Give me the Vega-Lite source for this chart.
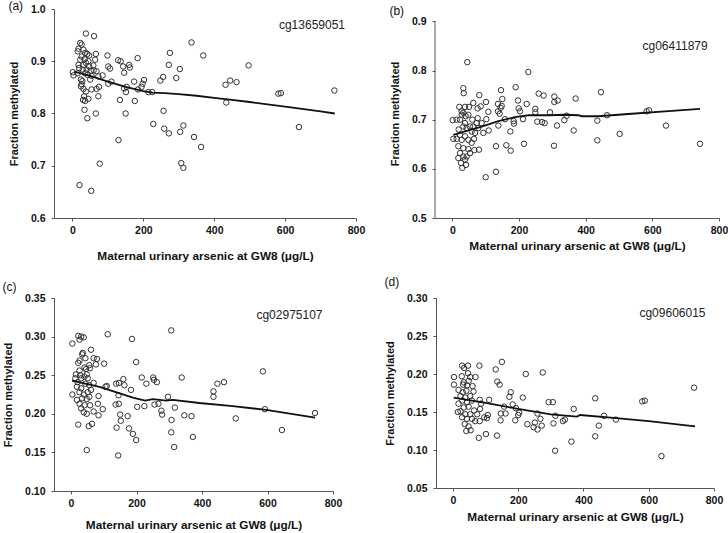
{
  "$schema": "https://vega.github.io/schema/vega-lite/v6.json",
  "padding": {"left": 2, "top": 0, "right": 0, "bottom": 0},
  "background": "white",
  "config": {
    "view": {"stroke": null},
    "font": "Liberation Sans",
    "axis": {"grid": false, "labelOverlap": false, "labelFlush": false, "tickCount": 12, "domainColor": "#555", "tickColor": "#555", "tickSize": 3, "labelFont": "Liberation Sans", "labelFontWeight": "bold", "labelFontSize": 10.5, "labelColor": "#111", "titleFont": "Liberation Sans", "titleFontWeight": "bold", "titleColor": "#111"},
    "axisX": {"labelPadding": 4, "titleFontSize": 11.8},
    "axisY": {"labelPadding": 6, "titleFontSize": 11, "titlePadding": 11},
    "title": {"font": "Liberation Sans", "fontSize": 12, "fontWeight": "normal", "anchor": "start", "frame": "bounds", "color": "#111"}
  },
  "datasets": {
    "ptsA": [
      {"arsenic":38,"fraction":0.953},{"arsenic":61,"fraction":0.948},{"arsenic":22,"fraction":0.935},{"arsenic":26,"fraction":0.932},{"arsenic":336,"fraction":0.936},{"arsenic":369,"fraction":0.911},{"arsenic":275,"fraction":0.916},{"arsenic":17,"fraction":0.924},{"arsenic":31,"fraction":0.922},{"arsenic":66,"fraction":0.914},{"arsenic":99,"fraction":0.911},{"arsenic":42,"fraction":0.914},{"arsenic":497,"fraction":0.892},{"arsenic":129,"fraction":0.902},{"arsenic":136,"fraction":0.900},{"arsenic":184,"fraction":0.906},{"arsenic":143,"fraction":0.890},{"arsenic":160,"fraction":0.893},{"arsenic":101,"fraction":0.890},{"arsenic":106,"fraction":0.886},{"arsenic":272,"fraction":0.893},{"arsenic":303,"fraction":0.885},{"arsenic":146,"fraction":0.878},{"arsenic":162,"fraction":0.888},{"arsenic":248,"fraction":0.863},{"arsenic":256,"fraction":0.870},{"arsenic":293,"fraction":0.868},{"arsenic":202,"fraction":0.864},{"arsenic":174,"fraction":0.861},{"arsenic":198,"fraction":0.857},{"arsenic":195,"fraction":0.851},{"arsenic":185,"fraction":0.846},{"arsenic":153,"fraction":0.851},{"arsenic":146,"fraction":0.848},{"arsenic":151,"fraction":0.841},{"arsenic":134,"fraction":0.826},{"arsenic":176,"fraction":0.824},{"arsenic":257,"fraction":0.805},{"arsenic":150,"fraction":0.800},{"arsenic":66,"fraction":0.800},{"arsenic":42,"fraction":0.791},{"arsenic":228,"fraction":0.780},{"arsenic":259,"fraction":0.771},{"arsenic":272,"fraction":0.762},{"arsenic":313,"fraction":0.777},{"arsenic":304,"fraction":0.765},{"arsenic":343,"fraction":0.755},{"arsenic":363,"fraction":0.736},{"arsenic":130,"fraction":0.749},{"arsenic":77,"fraction":0.704},{"arsenic":307,"fraction":0.705},{"arsenic":313,"fraction":0.696},{"arsenic":20,"fraction":0.663},{"arsenic":53,"fraction":0.652},{"arsenic":432,"fraction":0.855},{"arsenic":445,"fraction":0.863},{"arsenic":463,"fraction":0.860},{"arsenic":434,"fraction":0.821},{"arsenic":581,"fraction":0.838},{"arsenic":588,"fraction":0.839},{"arsenic":639,"fraction":0.774},{"arsenic":739,"fraction":0.844},{"arsenic":73,"fraction":0.871},{"arsenic":85,"fraction":0.873},{"arsenic":101,"fraction":0.857},{"arsenic":110,"fraction":0.861},{"arsenic":75,"fraction":0.851},{"arsenic":73,"fraction":0.833},{"arsenic":54,"fraction":0.846},{"arsenic":68,"fraction":0.847},{"arsenic":33,"fraction":0.833},{"arsenic":36,"fraction":0.824},{"arsenic":34,"fraction":0.807},{"arsenic":30,"fraction":0.826},{"arsenic":45,"fraction":0.828},{"arsenic":31,"fraction":0.847},{"arsenic":38,"fraction":0.842},{"arsenic":1,"fraction":0.879},{"arsenic":3,"fraction":0.873},{"arsenic":15,"fraction":0.877},{"arsenic":24,"fraction":0.865},{"arsenic":26,"fraction":0.856},{"arsenic":24,"fraction":0.852},{"arsenic":28,"fraction":0.862},{"arsenic":17,"fraction":0.893},{"arsenic":22,"fraction":0.903},{"arsenic":26,"fraction":0.909},{"arsenic":34,"fraction":0.904},{"arsenic":38,"fraction":0.897},{"arsenic":45,"fraction":0.900},{"arsenic":47,"fraction":0.890},{"arsenic":40,"fraction":0.884},{"arsenic":52,"fraction":0.882},{"arsenic":43,"fraction":0.874},{"arsenic":60,"fraction":0.883},{"arsenic":68,"fraction":0.881},{"arsenic":54,"fraction":0.872},{"arsenic":50,"fraction":0.865},{"arsenic":36,"fraction":0.877},{"arsenic":29,"fraction":0.884},{"arsenic":19,"fraction":0.887},{"arsenic":15,"fraction":0.919},{"arsenic":36,"fraction":0.916},{"arsenic":47,"fraction":0.911},{"arsenic":31,"fraction":0.893},{"arsenic":64,"fraction":0.903},{"arsenic":59,"fraction":0.892},{"arsenic":214,"fraction":0.841},{"arsenic":225,"fraction":0.841}
    ],
    "lineA": [
      {"arsenic":5,"fraction":0.880},{"arsenic":50,"fraction":0.872},{"arsenic":100,"fraction":0.861},{"arsenic":150,"fraction":0.851},{"arsenic":200,"fraction":0.843},{"arsenic":225,"fraction":0.840},{"arsenic":260,"fraction":0.839},{"arsenic":300,"fraction":0.837},{"arsenic":350,"fraction":0.834},{"arsenic":400,"fraction":0.830},{"arsenic":450,"fraction":0.826},{"arsenic":500,"fraction":0.822},{"arsenic":600,"fraction":0.813},{"arsenic":700,"fraction":0.804},{"arsenic":740,"fraction":0.800}
    ],
    "ptsB": [
      {"arsenic":45,"fraction":0.817},{"arsenic":228,"fraction":0.797},{"arsenic":33,"fraction":0.764},{"arsenic":34,"fraction":0.754},{"arsenic":190,"fraction":0.766},{"arsenic":146,"fraction":0.760},{"arsenic":259,"fraction":0.753},{"arsenic":274,"fraction":0.749},{"arsenic":446,"fraction":0.756},{"arsenic":81,"fraction":0.750},{"arsenic":306,"fraction":0.747},{"arsenic":316,"fraction":0.739},{"arsenic":306,"fraction":0.736},{"arsenic":370,"fraction":0.743},{"arsenic":150,"fraction":0.742},{"arsenic":197,"fraction":0.739},{"arsenic":101,"fraction":0.736},{"arsenic":63,"fraction":0.734},{"arsenic":223,"fraction":0.732},{"arsenic":137,"fraction":0.732},{"arsenic":148,"fraction":0.728},{"arsenic":85,"fraction":0.727},{"arsenic":76,"fraction":0.723},{"arsenic":199,"fraction":0.723},{"arsenic":249,"fraction":0.722},{"arsenic":203,"fraction":0.717},{"arsenic":108,"fraction":0.716},{"arsenic":145,"fraction":0.724},{"arsenic":137,"fraction":0.717},{"arsenic":21,"fraction":0.726},{"arsenic":38,"fraction":0.726},{"arsenic":249,"fraction":0.715},{"arsenic":293,"fraction":0.715},{"arsenic":1,"fraction":0.699},{"arsenic":102,"fraction":0.701},{"arsenic":158,"fraction":0.701},{"arsenic":142,"fraction":0.712},{"arsenic":212,"fraction":0.701},{"arsenic":343,"fraction":0.708},{"arsenic":435,"fraction":0.698},{"arsenic":464,"fraction":0.709},{"arsenic":336,"fraction":0.699},{"arsenic":255,"fraction":0.696},{"arsenic":269,"fraction":0.695},{"arsenic":277,"fraction":0.693},{"arsenic":184,"fraction":0.697},{"arsenic":185,"fraction":0.692},{"arsenic":138,"fraction":0.688},{"arsenic":314,"fraction":0.688},{"arsenic":583,"fraction":0.717},{"arsenic":590,"fraction":0.719},{"arsenic":502,"fraction":0.671},{"arsenic":641,"fraction":0.688},{"arsenic":743,"fraction":0.651},{"arsenic":435,"fraction":0.658},{"arsenic":364,"fraction":0.678},{"arsenic":305,"fraction":0.647},{"arsenic":215,"fraction":0.651},{"arsenic":162,"fraction":0.648},{"arsenic":131,"fraction":0.646},{"arsenic":175,"fraction":0.637},{"arsenic":174,"fraction":0.676},{"arsenic":109,"fraction":0.678},{"arsenic":80,"fraction":0.639},{"arsenic":100,"fraction":0.583},{"arsenic":131,"fraction":0.594},{"arsenic":73,"fraction":0.693},{"arsenic":65,"fraction":0.661},{"arsenic":66,"fraction":0.638},{"arsenic":48,"fraction":0.640},{"arsenic":3,"fraction":0.661},{"arsenic":13,"fraction":0.661},{"arsenic":19,"fraction":0.680},{"arsenic":23,"fraction":0.700},{"arsenic":28,"fraction":0.710},{"arsenic":33,"fraction":0.714},{"arsenic":40,"fraction":0.707},{"arsenic":48,"fraction":0.710},{"arsenic":38,"fraction":0.693},{"arsenic":33,"fraction":0.686},{"arsenic":43,"fraction":0.683},{"arsenic":53,"fraction":0.686},{"arsenic":58,"fraction":0.676},{"arsenic":23,"fraction":0.669},{"arsenic":28,"fraction":0.659},{"arsenic":38,"fraction":0.666},{"arsenic":48,"fraction":0.659},{"arsenic":18,"fraction":0.646},{"arsenic":33,"fraction":0.642},{"arsenic":23,"fraction":0.632},{"arsenic":33,"fraction":0.625},{"arsenic":26,"fraction":0.612},{"arsenic":30,"fraction":0.602},{"arsenic":43,"fraction":0.625},{"arsenic":53,"fraction":0.632},{"arsenic":38,"fraction":0.619},{"arsenic":58,"fraction":0.653},{"arsenic":68,"fraction":0.673},{"arsenic":78,"fraction":0.683},{"arsenic":63,"fraction":0.686},{"arsenic":88,"fraction":0.693},{"arsenic":50,"fraction":0.726},{"arsenic":28,"fraction":0.717},{"arsenic":13,"fraction":0.700},{"arsenic":60,"fraction":0.700},{"arsenic":76,"fraction":0.703},{"arsenic":93,"fraction":0.673},{"arsenic":18,"fraction":0.622},{"arsenic":41,"fraction":0.608}
    ],
    "lineB": [
      {"arsenic":3,"fraction":0.669},{"arsenic":38,"fraction":0.676},{"arsenic":88,"fraction":0.686},{"arsenic":138,"fraction":0.697},{"arsenic":188,"fraction":0.705},{"arsenic":228,"fraction":0.709},{"arsenic":288,"fraction":0.709},{"arsenic":338,"fraction":0.710},{"arsenic":378,"fraction":0.709},{"arsenic":388,"fraction":0.707},{"arsenic":438,"fraction":0.707},{"arsenic":538,"fraction":0.712},{"arsenic":638,"fraction":0.717},{"arsenic":743,"fraction":0.722}
    ],
    "ptsC": [
      {"arsenic":306,"fraction":0.308},{"arsenic":112,"fraction":0.303},{"arsenic":22,"fraction":0.301},{"arsenic":31,"fraction":0.300},{"arsenic":39,"fraction":0.299},{"arsenic":26,"fraction":0.296},{"arsenic":4,"fraction":0.291},{"arsenic":186,"fraction":0.297},{"arsenic":61,"fraction":0.283},{"arsenic":36,"fraction":0.279},{"arsenic":69,"fraction":0.272},{"arsenic":79,"fraction":0.271},{"arsenic":44,"fraction":0.272},{"arsenic":26,"fraction":0.269},{"arsenic":76,"fraction":0.264},{"arsenic":101,"fraction":0.265},{"arsenic":199,"fraction":0.267},{"arsenic":22,"fraction":0.266},{"arsenic":34,"fraction":0.277},{"arsenic":41,"fraction":0.260},{"arsenic":56,"fraction":0.263},{"arsenic":586,"fraction":0.255},{"arsenic":15,"fraction":0.251},{"arsenic":28,"fraction":0.250},{"arsenic":48,"fraction":0.251},{"arsenic":216,"fraction":0.247},{"arsenic":251,"fraction":0.247},{"arsenic":253,"fraction":0.244},{"arsenic":262,"fraction":0.241},{"arsenic":160,"fraction":0.245},{"arsenic":163,"fraction":0.237},{"arsenic":138,"fraction":0.239},{"arsenic":146,"fraction":0.240},{"arsenic":230,"fraction":0.239},{"arsenic":338,"fraction":0.247},{"arsenic":467,"fraction":0.241},{"arsenic":447,"fraction":0.239},{"arsenic":435,"fraction":0.229},{"arsenic":435,"fraction":0.222},{"arsenic":69,"fraction":0.240},{"arsenic":105,"fraction":0.235},{"arsenic":109,"fraction":0.236},{"arsenic":4,"fraction":0.225},{"arsenic":84,"fraction":0.223},{"arsenic":183,"fraction":0.231},{"arsenic":145,"fraction":0.224},{"arsenic":296,"fraction":0.222},{"arsenic":255,"fraction":0.212},{"arsenic":267,"fraction":0.213},{"arsenic":224,"fraction":0.210},{"arsenic":202,"fraction":0.209},{"arsenic":136,"fraction":0.212},{"arsenic":146,"fraction":0.213},{"arsenic":317,"fraction":0.208},{"arsenic":97,"fraction":0.206},{"arsenic":276,"fraction":0.204},{"arsenic":278,"fraction":0.199},{"arsenic":346,"fraction":0.198},{"arsenic":368,"fraction":0.197},{"arsenic":150,"fraction":0.199},{"arsenic":152,"fraction":0.191},{"arsenic":173,"fraction":0.197},{"arsenic":307,"fraction":0.192},{"arsenic":503,"fraction":0.194},{"arsenic":592,"fraction":0.206},{"arsenic":745,"fraction":0.201},{"arsenic":644,"fraction":0.179},{"arsenic":306,"fraction":0.176},{"arsenic":177,"fraction":0.181},{"arsenic":139,"fraction":0.182},{"arsenic":189,"fraction":0.174},{"arsenic":199,"fraction":0.166},{"arsenic":372,"fraction":0.170},{"arsenic":315,"fraction":0.157},{"arsenic":48,"fraction":0.153},{"arsenic":144,"fraction":0.146},{"arsenic":22,"fraction":0.186},{"arsenic":54,"fraction":0.184},{"arsenic":64,"fraction":0.187},{"arsenic":48,"fraction":0.200},{"arsenic":39,"fraction":0.202},{"arsenic":69,"fraction":0.203},{"arsenic":84,"fraction":0.198},{"arsenic":82,"fraction":0.213},{"arsenic":13,"fraction":0.246},{"arsenic":20,"fraction":0.241},{"arsenic":31,"fraction":0.246},{"arsenic":41,"fraction":0.248},{"arsenic":51,"fraction":0.246},{"arsenic":18,"fraction":0.235},{"arsenic":31,"fraction":0.233},{"arsenic":44,"fraction":0.239},{"arsenic":56,"fraction":0.237},{"arsenic":26,"fraction":0.228},{"arsenic":39,"fraction":0.225},{"arsenic":51,"fraction":0.228},{"arsenic":61,"fraction":0.231},{"arsenic":34,"fraction":0.220},{"arsenic":48,"fraction":0.219},{"arsenic":56,"fraction":0.222},{"arsenic":18,"fraction":0.218},{"arsenic":26,"fraction":0.213},{"arsenic":41,"fraction":0.211},{"arsenic":58,"fraction":0.211},{"arsenic":31,"fraction":0.207},{"arsenic":46,"fraction":0.258},{"arsenic":26,"fraction":0.256},{"arsenic":58,"fraction":0.259}
    ],
    "lineC": [
      {"arsenic":3,"fraction":0.243},{"arsenic":87,"fraction":0.235},{"arsenic":189,"fraction":0.221},{"arsenic":226,"fraction":0.217},{"arsenic":250,"fraction":0.219},{"arsenic":290,"fraction":0.217},{"arsenic":311,"fraction":0.218},{"arsenic":392,"fraction":0.214},{"arsenic":494,"fraction":0.210},{"arsenic":596,"fraction":0.205},{"arsenic":745,"fraction":0.195}
    ],
    "ptsD": [
      {"arsenic":150,"fraction":0.216},{"arsenic":28,"fraction":0.211},{"arsenic":46,"fraction":0.211},{"arsenic":81,"fraction":0.211},{"arsenic":34,"fraction":0.208},{"arsenic":131,"fraction":0.206},{"arsenic":275,"fraction":0.202},{"arsenic":223,"fraction":0.200},{"arsenic":46,"fraction":0.201},{"arsenic":3,"fraction":0.196},{"arsenic":27,"fraction":0.197},{"arsenic":53,"fraction":0.196},{"arsenic":69,"fraction":0.196},{"arsenic":3,"fraction":0.186},{"arsenic":136,"fraction":0.190},{"arsenic":143,"fraction":0.186},{"arsenic":31,"fraction":0.186},{"arsenic":43,"fraction":0.185},{"arsenic":739,"fraction":0.182},{"arsenic":177,"fraction":0.176},{"arsenic":63,"fraction":0.177},{"arsenic":173,"fraction":0.170},{"arsenic":214,"fraction":0.169},{"arsenic":436,"fraction":0.168},{"arsenic":293,"fraction":0.163},{"arsenic":306,"fraction":0.163},{"arsenic":580,"fraction":0.164},{"arsenic":588,"fraction":0.165},{"arsenic":82,"fraction":0.166},{"arsenic":111,"fraction":0.166},{"arsenic":183,"fraction":0.160},{"arsenic":193,"fraction":0.155},{"arsenic":203,"fraction":0.149},{"arsenic":200,"fraction":0.146},{"arsenic":157,"fraction":0.157},{"arsenic":161,"fraction":0.148},{"arsenic":147,"fraction":0.148},{"arsenic":146,"fraction":0.139},{"arsenic":191,"fraction":0.139},{"arsenic":259,"fraction":0.148},{"arsenic":370,"fraction":0.154},{"arsenic":463,"fraction":0.145},{"arsenic":499,"fraction":0.140},{"arsenic":314,"fraction":0.145},{"arsenic":308,"fraction":0.135},{"arsenic":337,"fraction":0.138},{"arsenic":343,"fraction":0.140},{"arsenic":268,"fraction":0.141},{"arsenic":251,"fraction":0.136},{"arsenic":228,"fraction":0.134},{"arsenic":247,"fraction":0.130},{"arsenic":259,"fraction":0.127},{"arsenic":272,"fraction":0.132},{"arsenic":447,"fraction":0.132},{"arsenic":107,"fraction":0.146},{"arsenic":104,"fraction":0.142},{"arsenic":96,"fraction":0.143},{"arsenic":82,"fraction":0.138},{"arsenic":313,"fraction":0.099},{"arsenic":363,"fraction":0.111},{"arsenic":436,"fraction":0.118},{"arsenic":639,"fraction":0.092},{"arsenic":101,"fraction":0.121},{"arsenic":135,"fraction":0.119},{"arsenic":79,"fraction":0.116},{"arsenic":54,"fraction":0.126},{"arsenic":41,"fraction":0.125},{"arsenic":65,"fraction":0.152},{"arsenic":83,"fraction":0.154},{"arsenic":86,"fraction":0.161},{"arsenic":17,"fraction":0.179},{"arsenic":30,"fraction":0.176},{"arsenic":41,"fraction":0.178},{"arsenic":23,"fraction":0.171},{"arsenic":38,"fraction":0.169},{"arsenic":53,"fraction":0.171},{"arsenic":28,"fraction":0.165},{"arsenic":43,"fraction":0.163},{"arsenic":58,"fraction":0.165},{"arsenic":17,"fraction":0.161},{"arsenic":33,"fraction":0.156},{"arsenic":48,"fraction":0.157},{"arsenic":23,"fraction":0.151},{"arsenic":38,"fraction":0.147},{"arsenic":53,"fraction":0.147},{"arsenic":28,"fraction":0.143},{"arsenic":43,"fraction":0.141},{"arsenic":58,"fraction":0.141},{"arsenic":36,"fraction":0.134},{"arsenic":48,"fraction":0.131},{"arsenic":33,"fraction":0.189},{"arsenic":48,"fraction":0.191},{"arsenic":60,"fraction":0.184},{"arsenic":74,"fraction":0.147},{"arsenic":68,"fraction":0.138},{"arsenic":15,"fraction":0.150}
    ],
    "lineD": [
      {"arsenic":2,"fraction":0.169},{"arsenic":100,"fraction":0.162},{"arsenic":200,"fraction":0.154},{"arsenic":300,"fraction":0.147},{"arsenic":380,"fraction":0.144},{"arsenic":390,"fraction":0.146},{"arsenic":500,"fraction":0.142},{"arsenic":600,"fraction":0.138},{"arsenic":742,"fraction":0.131}
    ]
  },
  "spacing": 12,
  "vconcat": [
    {
      "spacing": 24,
      "hconcat": [
        {
          "width": 302, "height": 209,
          "title": {"text": "(a)", "offset": -9},
          "layer": [
            {
              "data": {"name": "ptsA"},
              "mark": {"type": "point", "shape": "circle", "filled": false, "size": 30, "stroke": "#333", "strokeWidth": 1, "opacity": 1},
              "encoding": {
                "x": {"field": "arsenic", "type": "quantitative", "scale": {"domain": [-52, 800], "nice": false, "zero": false}, "axis": {"values": [0, 200, 400, 600, 800], "tickCount": 12, "title": "Maternal urinary arsenic at GW8 (μg/L)", "titlePadding": 15}},
                "y": {"field": "fraction", "type": "quantitative", "scale": {"domain": [0.6, 1.0], "nice": false, "zero": false}, "axis": {"values": [0.6, 0.7, 0.8, 0.9, 1.0], "tickCount": 12, "format": ".1f", "title": "Fraction methylated"}}
              }
            },
            {
              "data": {"name": "lineA"},
              "mark": {"type": "line", "color": "#111", "strokeWidth": 1.8},
              "encoding": {"x": {"field": "arsenic", "type": "quantitative"}, "y": {"field": "fraction", "type": "quantitative"}}
            },
            {
              "data": {"values": [{"label": "cg13659051"}]},
              "mark": {"type": "text", "align": "right", "baseline": "middle", "fontSize": 12, "font": "Liberation Sans", "color": "#222"},
              "encoding": {"x": {"datum": 769}, "y": {"datum": 0.97}, "text": {"field": "label"}}
            }
          ]
        },
        {
          "width": 284, "height": 209,
          "title": {"text": "(b)", "offset": -9},
          "layer": [
            {
              "data": {"name": "ptsB"},
              "mark": {"type": "point", "shape": "circle", "filled": false, "size": 30, "stroke": "#333", "strokeWidth": 1, "opacity": 1},
              "encoding": {
                "x": {"field": "arsenic", "type": "quantitative", "scale": {"domain": [-52, 800], "nice": false, "zero": false}, "axis": {"values": [0, 200, 400, 600, 800], "tickCount": 12, "title": "Maternal urinary arsenic at GW8 (μg/L)", "titlePadding": 5}},
                "y": {"field": "fraction", "type": "quantitative", "scale": {"domain": [0.5, 0.9251], "nice": false, "zero": false}, "axis": {"values": [0.5, 0.6, 0.7, 0.8, 0.9], "tickCount": 12, "format": ".1f", "title": "Fraction methylated", "domain": false}}
              }
            },
            {
              "data": {"values": [{"axis": "y"}]},
              "mark": {"type": "rule", "color": "#555", "strokeWidth": 1},
              "encoding": {"x": {"datum": -52}, "y": {"datum": 0.5}, "y2": {"datum": 0.9}}
            },
            {
              "data": {"name": "lineB"},
              "mark": {"type": "line", "color": "#111", "strokeWidth": 1.8},
              "encoding": {"x": {"field": "arsenic", "type": "quantitative"}, "y": {"field": "fraction", "type": "quantitative"}}
            },
            {
              "data": {"values": [{"label": "cg06411879"}]},
              "mark": {"type": "text", "align": "right", "baseline": "middle", "fontSize": 12, "font": "Liberation Sans", "color": "#222"},
              "encoding": {"x": {"datum": 766}, "y": {"datum": 0.85}, "text": {"field": "label"}}
            }
          ]
        }
      ]
    },
    {
      "spacing": 42,
      "hconcat": [
        {
          "width": 279, "height": 193,
          "title": {"text": "(c)", "offset": -0.7},
          "layer": [
            {
              "data": {"name": "ptsC"},
              "mark": {"type": "point", "shape": "circle", "filled": false, "size": 30, "stroke": "#333", "strokeWidth": 1, "opacity": 1},
              "encoding": {
                "x": {"field": "arsenic", "type": "quantitative", "scale": {"domain": [-52, 800], "nice": false, "zero": false}, "axis": {"values": [0, 200, 400, 600, 800], "tickCount": 12, "title": "Maternal urinary arsenic at GW8 (μg/L)", "titlePadding": 11}},
                "y": {"field": "fraction", "type": "quantitative", "scale": {"domain": [0.1, 0.35], "nice": false, "zero": false}, "axis": {"values": [0.10, 0.15, 0.20, 0.25, 0.30, 0.35], "tickCount": 12, "format": ".2f", "title": "Fraction methylated"}}
              }
            },
            {
              "data": {"name": "lineC"},
              "mark": {"type": "line", "color": "#111", "strokeWidth": 1.8},
              "encoding": {"x": {"field": "arsenic", "type": "quantitative"}, "y": {"field": "fraction", "type": "quantitative"}}
            },
            {
              "data": {"values": [{"label": "cg02975107"}]},
              "mark": {"type": "text", "align": "right", "baseline": "middle", "fontSize": 12, "font": "Liberation Sans", "color": "#222"},
              "encoding": {"x": {"datum": 768}, "y": {"datum": 0.3275}, "text": {"field": "label"}}
            }
          ]
        },
        {
          "width": 278, "height": 190,
          "title": {"text": "(d)", "offset": 4.3},
          "layer": [
            {
              "data": {"name": "ptsD"},
              "mark": {"type": "point", "shape": "circle", "filled": false, "size": 30, "stroke": "#333", "strokeWidth": 1, "opacity": 1},
              "encoding": {
                "x": {"field": "arsenic", "type": "quantitative", "scale": {"domain": [-52, 800], "nice": false, "zero": false}, "axis": {"values": [0, 200, 400, 600, 800], "tickCount": 12, "title": "Maternal urinary arsenic at GW8 (μg/L)", "titlePadding": 6}},
                "y": {"field": "fraction", "type": "quantitative", "scale": {"domain": [0.05, 0.3], "nice": false, "zero": false}, "axis": {"values": [0.05, 0.10, 0.15, 0.20, 0.25, 0.30], "tickCount": 12, "format": ".2f", "title": "Fraction methylated"}}
              }
            },
            {
              "data": {"name": "lineD"},
              "mark": {"type": "line", "color": "#111", "strokeWidth": 1.8},
              "encoding": {"x": {"field": "arsenic", "type": "quantitative"}, "y": {"field": "fraction", "type": "quantitative"}}
            },
            {
              "data": {"values": [{"label": "cg09606015"}]},
              "mark": {"type": "text", "align": "right", "baseline": "middle", "fontSize": 12, "font": "Liberation Sans", "color": "#222"},
              "encoding": {"x": {"datum": 774}, "y": {"datum": 0.28}, "text": {"field": "label"}}
            }
          ]
        }
      ]
    }
  ]
}
